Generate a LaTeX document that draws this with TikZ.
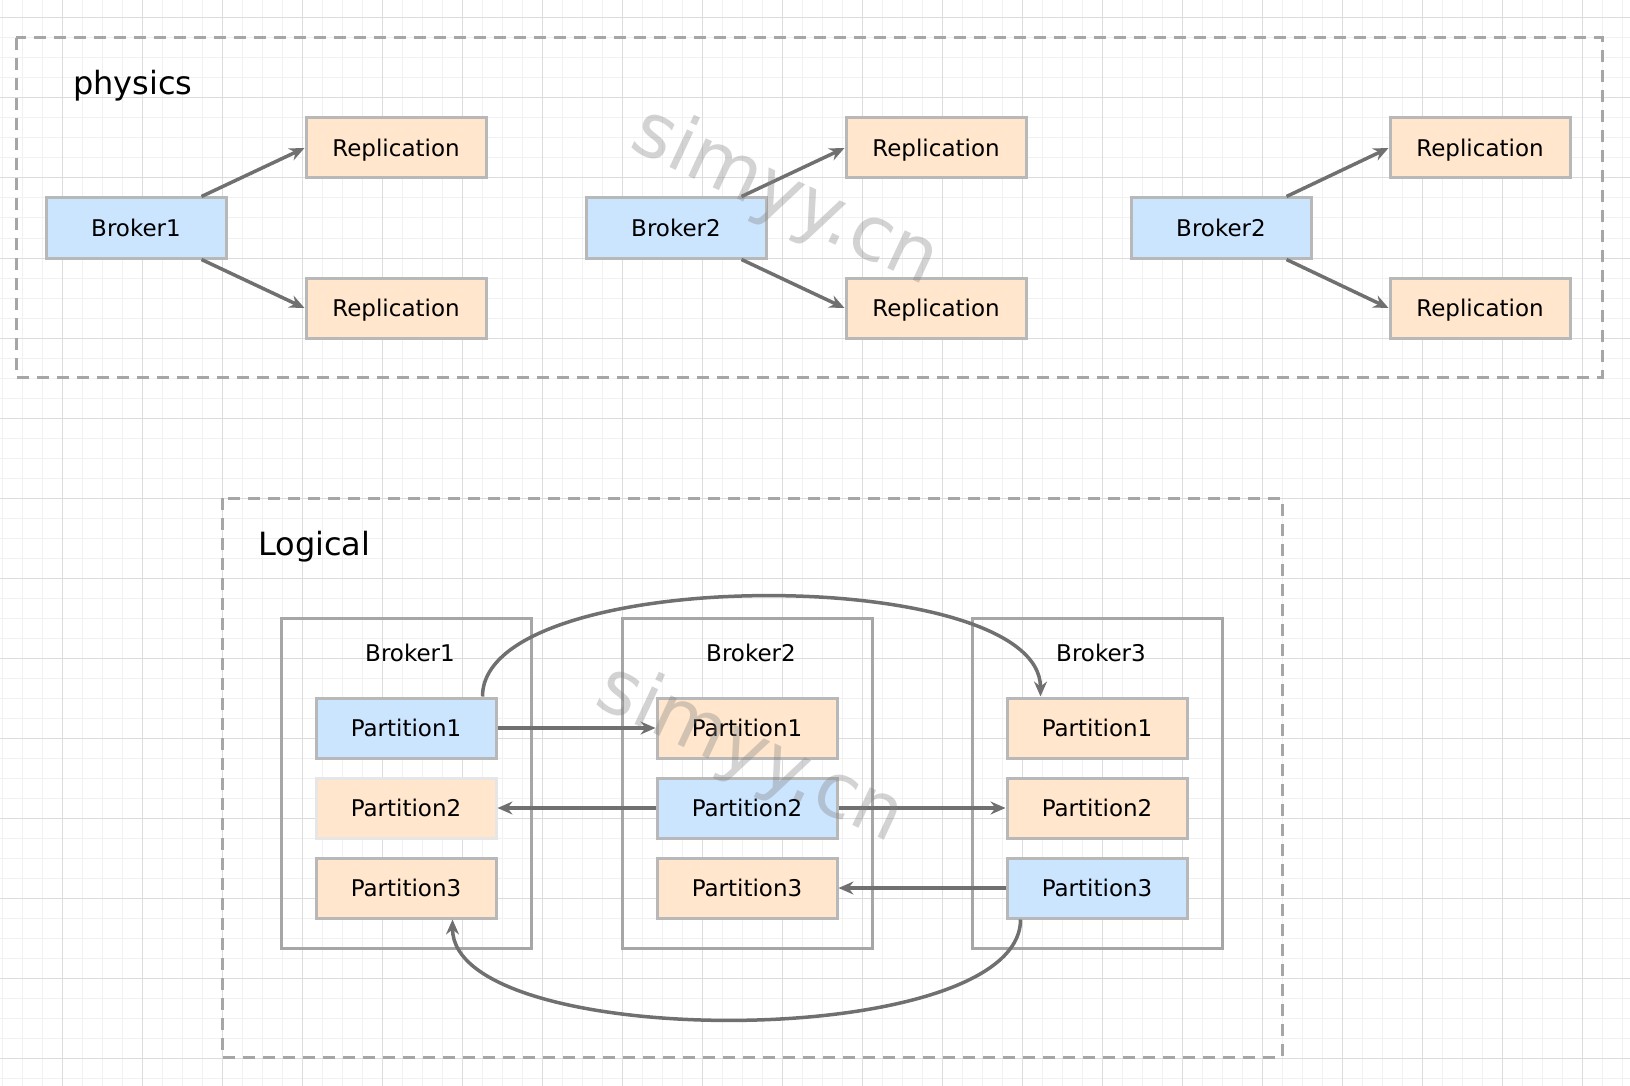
\documentclass[tikz,border=0pt]{standalone}
\usepackage{fontspec}
\setmainfont{DejaVu Sans}
\usetikzlibrary{arrows.meta}

\definecolor{leaderblue}{HTML}{CCE5FF}
\definecolor{followerorange}{HTML}{FFE6CC}
\definecolor{cellgray}{HTML}{B8B8B8}
\definecolor{palegray}{HTML}{E6E6E6}
\definecolor{framegray}{HTML}{A6A6A6}
\definecolor{arrowgray}{HTML}{707070}
\definecolor{gridmajor}{HTML}{DCDCDC}
\definecolor{gridminor}{HTML}{F1F1F1}

\tikzset{
  cellbox/.style = {
    rectangle,                        % plain box
    draw           = cellgray,        % border
    line width     = 3pt,             % border width
    minimum width  = 180pt,           % width of box
    minimum height = 60pt,            % height of box
    inner sep      = 0pt,             % sep b/w border and inner text
    text height    = 17pt,            % centre on the capitals
    text depth     = 0pt,             %
    font           = \fontsize{23}{28}\selectfont,%
    text           = black,           % inner label color
  },
  leaderbox/.style   = {cellbox, fill = leaderblue},
  followerbox/.style = {cellbox, fill = followerorange},
  brokerbox/.style = {
    rectangle,
    draw           = framegray,
    line width     = 3pt,
    minimum width  = 250pt,
    minimum height = 330pt,
    inner sep      = 0pt,
  },
  brokerlabel/.style = {
    inner sep = 0pt,
    anchor    = base,
    font      = \fontsize{23}{28}\selectfont,
  },
  grouptitle/.style = {
    inner sep = 0pt,
    anchor    = base west,
    font      = \fontsize{32}{38}\selectfont,
  },
  groupframe/.style = {
    draw         = framegray,
    line width   = 3pt,
    dash pattern = on 12pt off 8pt,
  },
  flowarrow/.style = {
    draw       = arrowgray,
    line width = 3.5pt,
    -{Stealth[length=15pt, width=13pt, inset=5pt]},
  },
  wmark/.style = {
    inner sep    = 0pt,
    rotate       = -25,
    text         = gray,
    text opacity = .35,
    font         = \fontsize{76}{80}\selectfont,
  },
}

\begin{document}
\begin{tikzpicture}[x=1pt, y=-1pt]
\useasboundingbox (0,0) rectangle (1630,1086);

% background grid
\foreach \gx in {2,22,...,1622} \draw[gridminor, line width=1pt] (\gx,0) -- (\gx,1086);
\foreach \gy in {-2,18,...,1078} \draw[gridminor, line width=1pt] (0,\gy) -- (1630,\gy);
\foreach \gx in {62,142,...,1622} \draw[gridmajor, line width=1pt] (\gx,0) -- (\gx,1086);
\foreach \gy in {18,98,...,1078} \draw[gridmajor, line width=1pt] (0,\gy) -- (1630,\gy);

% physics
\draw[groupframe] (16,38) rectangle (1602,377);
\node[grouptitle] (physicstitle) at (73,95) {physics};

\node at (136, 228) [leaderbox]   (pb1)  {Broker1};
\node at (396, 148) [followerbox] (pr1a) {Replication};
\node at (396, 308) [followerbox] (pr1b) {Replication};

\node at (676, 228) [leaderbox]   (pb2)  {Broker2};
\node at (936, 148) [followerbox] (pr2a) {Replication};
\node at (936, 308) [followerbox] (pr2b) {Replication};

\node at (1221, 228) [leaderbox]   (pb3)  {Broker2};
\node at (1480, 148) [followerbox] (pr3a) {Replication};
\node at (1480, 308) [followerbox] (pr3b) {Replication};

\foreach \b/\r in {pb1/pr1, pb2/pr2, pb3/pr3} {
  \draw[flowarrow] ([xshift=-26pt]\b.north east) -- (\r a.west);
  \draw[flowarrow] ([xshift=-26pt]\b.south east) -- (\r b.west);
}

% logical
\draw[groupframe] (222,498) rectangle (1282,1057);
\node[grouptitle] (logicaltitle) at (258,555) {Logical};

\node at (406, 783)  [brokerbox] (lb1) {};
\node at (747, 783)  [brokerbox] (lb2) {};
\node at (1097, 783) [brokerbox] (lb3) {};
\node[brokerlabel] (lb1label) at ([xshift=4pt, yshift=-45pt]lb1.north) {Broker1};
\node[brokerlabel] (lb2label) at ([xshift=4pt, yshift=-45pt]lb2.north) {Broker2};
\node[brokerlabel] (lb3label) at ([xshift=4pt, yshift=-45pt]lb3.north) {Broker3};

\node at (406, 728)  [leaderbox]   (p11) {Partition1};
\node at (406, 808)  [followerbox, draw=palegray] (p12) {Partition2};
\node at (406, 888)  [followerbox] (p13) {Partition3};

\node at (747, 728)  [followerbox] (p21) {Partition1};
\node at (747, 808)  [leaderbox]   (p22) {Partition2};
\node at (747, 888)  [followerbox] (p23) {Partition3};

\node at (1097, 728) [followerbox] (p31) {Partition1};
\node at (1097, 808) [followerbox] (p32) {Partition2};
\node at (1097, 888) [leaderbox]   (p33) {Partition3};

\draw[flowarrow] (p11.east) -- (p21.west);
\draw[flowarrow] (p22.west) -- (p12.east);
\draw[flowarrow] (p22.east) -- (p32.west);
\draw[flowarrow] (p33.west) -- (p23.east);
\draw[flowarrow] ([xshift=-15pt]p11.north east)
  .. controls +(0,-133) and +(0,-133) .. ([xshift=35pt]p31.north west);
\draw[flowarrow] ([xshift=15pt]p33.south west)
  .. controls +(0,133) and +(0,133) .. ([xshift=-45pt]p13.south east);

% watermark
\node[wmark] (wm1) at (785,198) {simyy.cn};
\node[wmark] (wm2) at (750,755) {simyy.cn};
\end{tikzpicture}
\end{document}
